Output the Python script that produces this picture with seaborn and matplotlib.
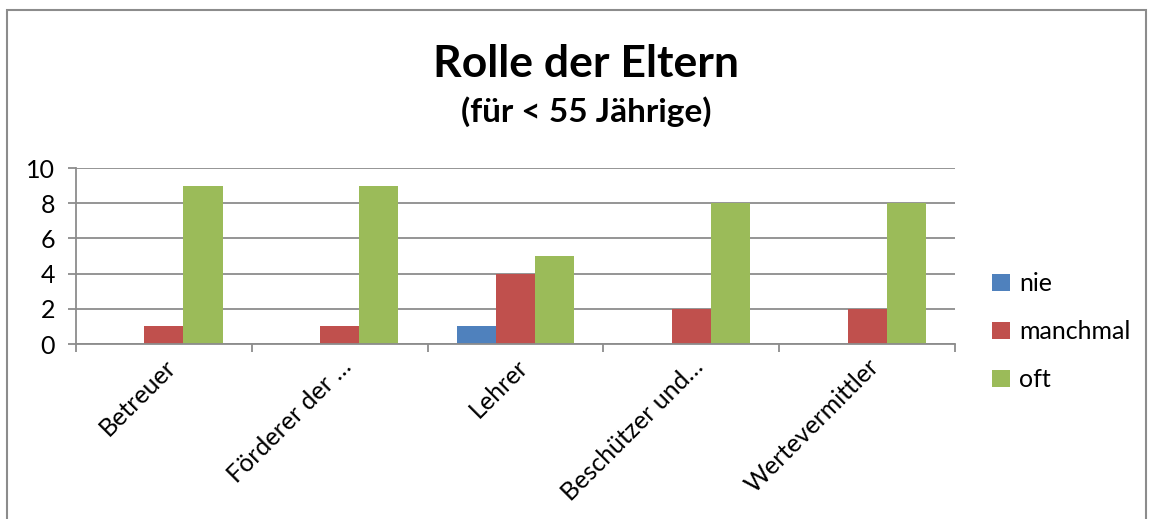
import matplotlib
matplotlib.use("Agg")
import matplotlib.pyplot as plt
import seaborn as sns
import pandas as pd
from matplotlib.patches import Rectangle

categories = ["Betreuer", "Förderer der …", "Lehrer", "Beschützer und…", "Wertevermittler"]
series_names = ["nie", "manchmal", "oft"]
nie = [0, 0, 1, 0, 0]
manchmal = [1, 1, 4, 2, 2]
oft = [9, 9, 5, 8, 8]
colors = ["#4F81BD", "#C0504D", "#9BBB59"]

rows = []
for s, vals in zip(series_names, [nie, manchmal, oft]):
    for c, v in zip(categories, vals):
        rows.append({"Kategorie": c, "Serie": s, "Wert": v})
df = pd.DataFrame(rows)

sns.set_theme(style="white")
plt.rcParams["font.family"] = ["Lato", "DejaVu Sans"]
plt.rcParams["text.color"] = "black"

fig = plt.figure(figsize=(11.49, 5.19), dpi=100)
ax = fig.add_axes([76/1149, 1-344/519, (955-76)/1149, (344-168)/519])

sns.barplot(data=df, x="Kategorie", y="Wert", hue="Serie", palette=colors,
            width=0.667, gap=0, ax=ax, legend=True, saturation=1, edgecolor="none")

ax.set_xlim(-0.5, 4.5)
ax.set_ylim(0, 10)
ax.set_yticks([0, 2, 4, 6, 8, 10])
ax.yaxis.grid(True, color="#8C8C8C", linewidth=1.3)
ax.set_axisbelow(True)
for side in ["top", "right"]:
    ax.spines[side].set_visible(False)
ax.spines["left"].set_color("#8C8C8C")
ax.spines["left"].set_linewidth(1.3)
ax.spines["bottom"].set_color("#8C8C8C")
ax.spines["bottom"].set_linewidth(1.3)
ax.set_xlabel("")
ax.set_ylabel("")

ax.tick_params(axis="y", direction="out", length=6, color="#8C8C8C", width=1.3,
               left=True, labelsize=18, pad=9)
ax.set_xticks([-0.5, 0.5, 1.5, 2.5, 3.5, 4.5], minor=True)
ax.tick_params(axis="x", which="minor", direction="out", length=6, color="#8C8C8C", width=1.3, bottom=True)
ax.tick_params(axis="x", which="major", length=0, labelsize=18, pad=8)
ax.set_xticks(range(len(categories)))
ax.set_xticklabels(categories, rotation=45, ha="right", rotation_mode="anchor")
for lab in ax.get_yticklabels() + ax.get_xticklabels():
    lab.set_color("#000000")

leg = ax.legend(loc="upper left", bbox_to_anchor=(992/1149, 1-272/519),
                bbox_transform=fig.transFigure, frameon=False, fontsize=18,
                handlelength=0.7, handleheight=0.7, handletextpad=0.4,
                labelspacing=1.0, borderaxespad=0, borderpad=0)
for t in leg.get_texts():
    t.set_color("black")

fig.text(0.5*(8+1164)/1149, 1-64/519, "Rolle der Eltern", ha="center", va="center",
         fontsize=32, fontweight="bold", color="black")
fig.text(0.5*(8+1164)/1149, 1-112/519, "(für < 55 Jährige)", ha="center", va="center",
         fontsize=24, fontweight="bold", color="black")

fig.patches.append(Rectangle((7/1149, -0.1), (1146-7)/1149, 1.1 - 10/519,
                             transform=fig.transFigure, fill=False,
                             edgecolor="#8C8C8C", linewidth=1.5))

fig.savefig("out.png", dpi=100, facecolor="white")
